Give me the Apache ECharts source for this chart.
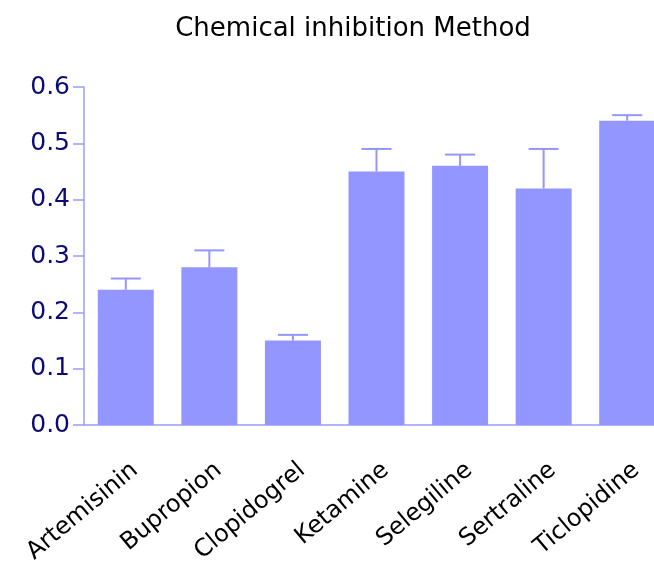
<!DOCTYPE html>
<html><head><meta charset="utf-8">
<script src="https://cdn.jsdelivr.net/npm/echarts@6/dist/echarts.min.js"></script>
<style>html,body{margin:0;padding:0;background:#fff}#c{width:654px;height:566px}</style>
</head><body><div id="c"></div>
<script>
const categories = ['Artemisinin','Bupropion','Clopidogrel','Ketamine','Selegiline','Sertraline','Ticlopidine'];
const means = [0.24, 0.28, 0.15, 0.45, 0.46, 0.42, 0.54];
const upper = [0.26, 0.31, 0.16, 0.49, 0.48, 0.49, 0.55];
const yTicks = [0, 0.1, 0.2, 0.3, 0.4, 0.5, 0.6];

const barColor = '#9496ff';
const axisColor = '#9a9cff';
const chart = echarts.init(document.getElementById('c'));
chart.setOption({
  animation: false,
  title: {text: 'Chemical inhibition Method', left: 348, top: 11, textAlign: 'center',
    textStyle: {fontFamily: 'DejaVu Sans', fontSize: 26, fontWeight: 'normal', color: '#000'}},
  grid: {left: 84, width: 585, top: 87, height: 338, containLabel: false, outerBoundsMode: 'none'},
  xAxis: {type: 'category', data: categories,
    axisLine: {lineStyle: {color: axisColor, width: 1.5}},
    axisTick: {alignWithLabel: true, length: 10, lineStyle: {color: axisColor, width: 1.5}},
    axisLabel: {rotate: 40, interval: 0, margin: 50, padding: [0, -12, 0, 0], fontFamily: 'DejaVu Sans', fontSize: 24, color: '#000'}},
  yAxis: {type: 'value', min: 0, max: 0.6, interval: 0.1,
    splitLine: {show: false},
    axisLine: {show: true, lineStyle: {color: axisColor, width: 1.5}},
    axisTick: {show: true, length: 11, lineStyle: {color: axisColor, width: 1.5}},
    axisLabel: {margin: 14, fontFamily: 'DejaVu Sans', fontSize: 25, color: '#0a0a78',
      formatter: v => v.toFixed(1)}},
  series: [
    {type: 'bar', data: means, barWidth: '67%', itemStyle: {color: barColor}},
    {type: 'custom', data: categories.map((c, i) => [i, means[i], upper[i]]),
      z: 3,
      renderItem: function (params, api) {
        const top = api.coord([api.value(0), api.value(2)]);
        const base = api.coord([api.value(0), api.value(1)]);
        const hw = 15;
        return {type: 'group', children: [
          {type: 'line', shape: {x1: top[0], y1: top[1], x2: base[0], y2: base[1]}, style: {stroke: barColor, lineWidth: 2}},
          {type: 'line', shape: {x1: top[0] - hw, y1: top[1], x2: top[0] + hw, y2: top[1]}, style: {stroke: barColor, lineWidth: 2}}
        ]};
      }}
  ]
});
</script></body></html>
